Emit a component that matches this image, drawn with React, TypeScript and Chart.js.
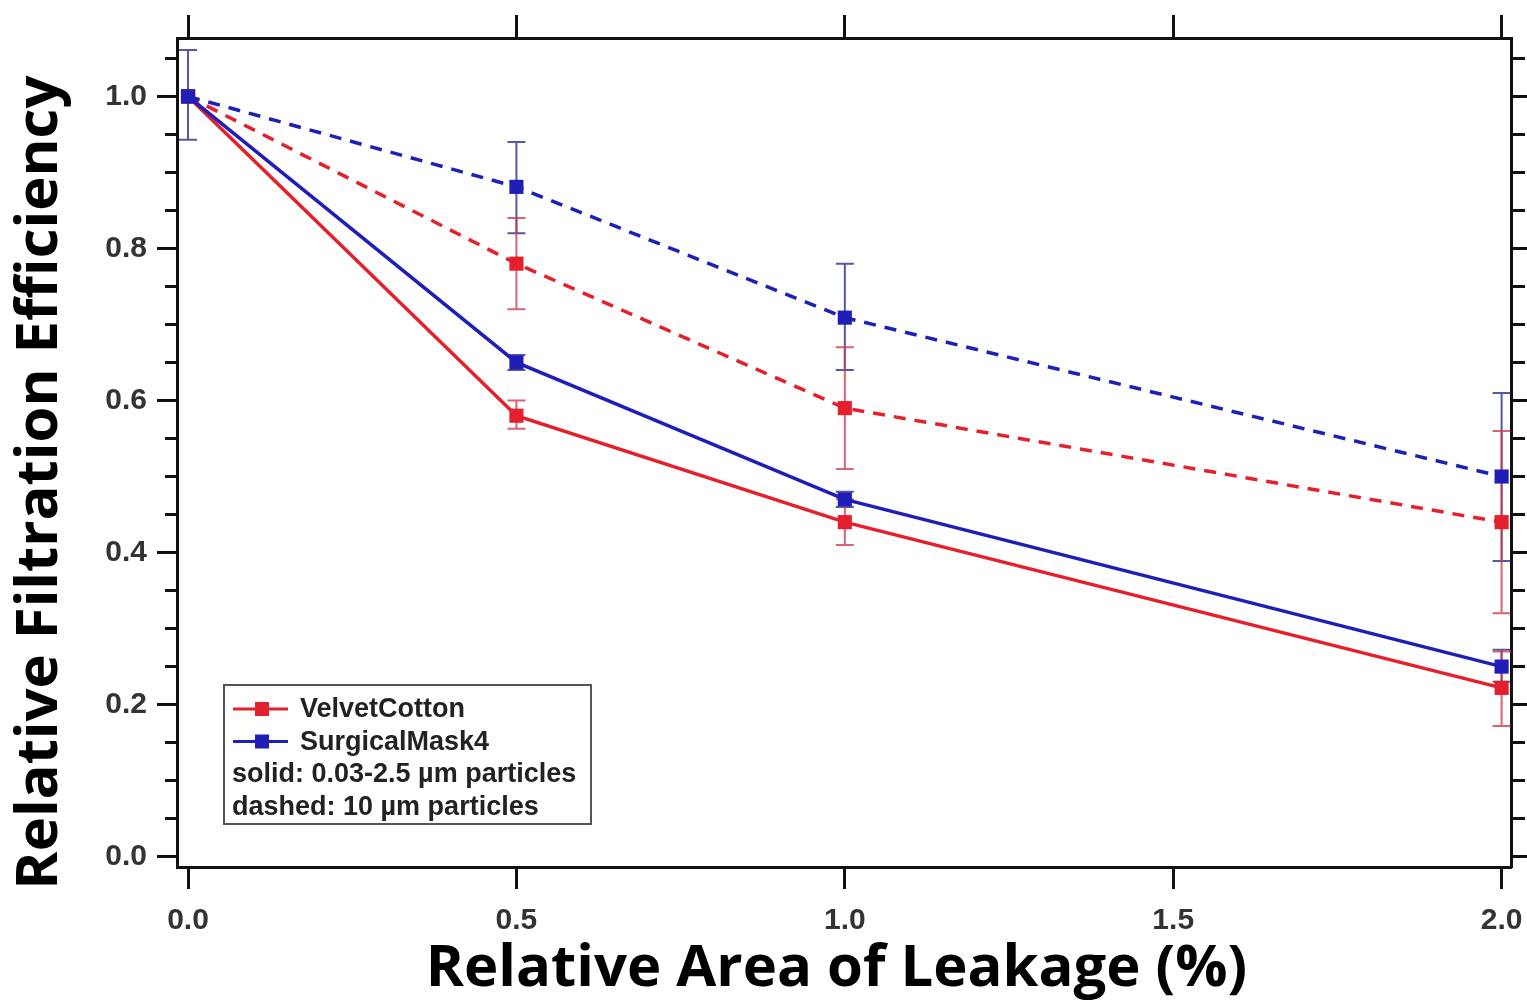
import React, { useEffect, useRef } from "react";
import { Chart, registerables } from "chart.js";

Chart.register(...registerables);

// ---- data ----
const xValues = [0, 0.5, 1.0, 2.0];

const velvetSolid = [1.0, 0.58, 0.44, 0.222];
const velvetSolidLow = [null, 0.563, 0.41, 0.172];
const velvetSolidHigh = [null, 0.6, 0.47, 0.27];

const surgicalSolid = [1.0, 0.65, 0.47, 0.25];
const surgicalSolidLow = [null, 0.64, 0.46, 0.23];
const surgicalSolidHigh = [null, 0.66, 0.48, 0.272];

const velvetDashed = [1.0, 0.78, 0.59, 0.44];
const velvetDashedLow = [null, 0.72, 0.51, 0.32];
const velvetDashedHigh = [null, 0.84, 0.67, 0.56];

const surgicalDashed = [1.0, 0.881, 0.709, 0.5];
const surgicalDashedLow = [0.943, 0.82, 0.64, 0.389];
const surgicalDashedHigh = [1.061, 0.94, 0.78, 0.61];

const xTickValues = [0, 0.5, 1.0, 1.5, 2.0];
const yTickValues = [
  0, 0.05, 0.1, 0.15, 0.2, 0.25, 0.3, 0.35, 0.4, 0.45, 0.5, 0.55, 0.6, 0.65,
  0.7, 0.75, 0.8, 0.85, 0.9, 0.95, 1.0, 1.05,
];

const seriesLabels = ["VelvetCotton", "SurgicalMask4"];
const legendNotes = ["solid: 0.03-2.5 µm particles", "dashed: 10 µm particles"];

const xTitle = "Relative Area of Leakage (%)";
const yTitle = "Relative Filtration Efficiency";

const RED = "#e3202b";
const BLUE = "#1f1fb8";
const RED_ERR = "rgba(205,60,80,0.8)";
const BLUE_ERR = "rgba(45,45,140,0.8)";

const isMajorY = (v: number) => Math.abs(v * 5 - Math.round(v * 5)) < 1e-6;

const toPoints = (ys: number[]) => xValues.map((x, i) => ({ x, y: ys[i] }));

const errorBarPlugin = {
  id: "errorBars",
  beforeDatasetsDraw(chart: any) {
    const { ctx } = chart;
    const xs = chart.scales.x;
    const ys = chart.scales.y;
    chart.data.datasets.forEach((ds: any) => {
      if (!ds.errLow) return;
      ctx.save();
      ctx.strokeStyle = ds.errColor;
      ctx.lineWidth = 2;
      ds.data.forEach((p: any, i: number) => {
        const lo = ds.errLow[i];
        const hi = ds.errHigh[i];
        if (lo == null || hi == null) return;
        const px = xs.getPixelForValue(p.x);
        const pl = ys.getPixelForValue(lo);
        const ph = ys.getPixelForValue(hi);
        ctx.beginPath();
        ctx.moveTo(px, pl);
        ctx.lineTo(px, ph);
        ctx.moveTo(px - 9, pl);
        ctx.lineTo(px + 9, pl);
        ctx.moveTo(px - 9, ph);
        ctx.lineTo(px + 9, ph);
        ctx.stroke();
      });
      ctx.restore();
    });
  },
};

const legendBoxPlugin = {
  id: "legendBox",
  afterDatasetsDraw(chart: any) {
    const { ctx, chartArea } = chart;
    const w = 367;
    const h = 139;
    const left = chartArea.left + 47;
    const top = chartArea.bottom - 43 - h;
    ctx.save();
    ctx.fillStyle = "#ffffff";
    ctx.fillRect(left, top, w, h);
    ctx.strokeStyle = "#555555";
    ctx.lineWidth = 2;
    ctx.strokeRect(left, top, w, h);
    ctx.font = 'bold 27px "Liberation Sans", Arial, sans-serif';
    ctx.textBaseline = "middle";
    ctx.fillStyle = "#222222";
    const items = chart.data.datasets
      .filter((d: any) => d.legendRank != null)
      .sort((a: any, b: any) => a.legendRank - b.legendRank);
    let row = 0;
    items.forEach((d: any) => {
      const cy = top + 24 + row * 32.5;
      ctx.strokeStyle = d.borderColor;
      ctx.lineWidth = 3;
      ctx.beginPath();
      ctx.moveTo(left + 9, cy);
      ctx.lineTo(left + 64, cy);
      ctx.stroke();
      ctx.fillStyle = d.borderColor;
      ctx.fillRect(left + 38 - 7, cy - 7, 14, 14);
      ctx.fillStyle = "#222222";
      ctx.textAlign = "left";
      ctx.fillText(d.label, left + 76, cy + 1);
      row++;
    });
    legendNotes.forEach((t) => {
      const cy = top + 24 + row * 32.5;
      ctx.fillStyle = "#222222";
      ctx.fillText(t, left + 8, cy + 1);
      row++;
    });
    ctx.restore();
  },
};

export default function App() {
  const ref = useRef<HTMLCanvasElement | null>(null);

  useEffect(() => {
    if (!ref.current) return;
    const tickFont = { family: '"Liberation Sans", Arial, sans-serif', size: 30, weight: "bold" as const };
    const titleFont = { family: '"Open Sans", sans-serif', size: 58, weight: "bold" as const };
    const setXTicks = (scale: any) => {
      scale.ticks = xTickValues.map((v) => ({ value: v }));
    };
    const setYTicks = (scale: any) => {
      scale.ticks = yTickValues.map((v) => ({ value: v }));
    };
    const X_MIN = -0.0168;
    const X_MAX = 2.0143;
    const Y_MIN = -0.0136;
    const Y_MAX = 1.0768;

    const common = {
      pointStyle: "rect",
      pointRadius: 10,
      pointBorderWidth: 0,
      tension: 0,
    };

    const chart = new Chart(ref.current, {
      type: "line",
      data: {
        datasets: [
          {
            ...common,
            label: seriesLabels[1],
            data: toPoints(surgicalSolid),
            borderColor: BLUE,
            backgroundColor: BLUE,
            borderWidth: 3.5,
            errLow: surgicalSolidLow,
            errHigh: surgicalSolidHigh,
            errColor: BLUE_ERR,
            legendRank: 1,
          } as any,
          {
            ...common,
            label: seriesLabels[0],
            data: toPoints(velvetSolid),
            borderColor: RED,
            backgroundColor: RED,
            borderWidth: 3.5,
            errLow: velvetSolidLow,
            errHigh: velvetSolidHigh,
            errColor: RED_ERR,
            legendRank: 0,
          } as any,
          {
            ...common,
            label: seriesLabels[1] + " (10 µm)",
            data: toPoints(surgicalDashed),
            borderColor: BLUE,
            backgroundColor: BLUE,
            borderWidth: 3.5,
            borderDash: [12, 9],
            errLow: surgicalDashedLow,
            errHigh: surgicalDashedHigh,
            errColor: BLUE_ERR,
          } as any,
          {
            ...common,
            label: seriesLabels[0] + " (10 µm)",
            data: toPoints(velvetDashed),
            borderColor: RED,
            backgroundColor: RED,
            borderWidth: 3.5,
            borderDash: [12, 9],
            errLow: velvetDashedLow,
            errHigh: velvetDashedHigh,
            errColor: RED_ERR,
          } as any,
        ],
      },
      options: {
        animation: false,
        responsive: true,
        maintainAspectRatio: false,
        layout: { padding: 0 },
        plugins: {
          legend: { display: false },
          tooltip: { enabled: false },
        },
        scales: {
          x: {
            type: "linear",
            position: "bottom",
            min: X_MIN,
            max: X_MAX,
            afterBuildTicks: setXTicks,
            afterFit: (s: any) => {
              s.height = 137;
              s.paddingLeft = 0;
              s.paddingRight = 0;
            },
            border: { display: true, color: "#111", width: 3 },
            grid: { drawOnChartArea: false, drawTicks: true, tickLength: 22, tickWidth: 3, tickColor: "#111" },
            ticks: {
              autoSkip: false,
              maxRotation: 0,
              padding: 14,
              color: "#333",
              font: tickFont,
              callback: (v: any) => Number(v).toFixed(1),
            },
            title: {
              display: true,
              text: xTitle + " ",
              color: "#000",
              font: titleFont,
              padding: { top: 0, bottom: 0 },
            },
          },
          xTop: {
            type: "linear",
            position: "top",
            min: X_MIN,
            max: X_MAX,
            afterBuildTicks: setXTicks,
            afterFit: (s: any) => {
              s.height = 38;
              s.paddingLeft = 0;
              s.paddingRight = 0;
            },
            border: { display: true, color: "#111", width: 3 },
            grid: { drawOnChartArea: false, drawTicks: true, tickLength: 23, tickWidth: 3, tickColor: "#111" },
            ticks: { display: false },
          },
          y: {
            type: "linear",
            position: "left",
            min: Y_MIN,
            max: Y_MAX,
            afterBuildTicks: setYTicks,
            afterFit: (s: any) => {
              s.width = 177;
            },
            border: { display: true, color: "#111", width: 3 },
            grid: {
              drawOnChartArea: false,
              drawTicks: true,
              tickLength: 20,
              tickWidth: 3,
              tickColor: "#111",
              tickBorderDash: (c: any) => (c.tick && isMajorY(c.tick.value) ? [] : [0, 8, 100]),
            },
            ticks: {
              autoSkip: false,
              padding: 10,
              color: "#333",
              font: tickFont,
              callback: (v: any) => (isMajorY(Number(v)) ? Number(v).toFixed(1) : ""),
            },
            title: {
              display: true,
              text: yTitle + "    ",
              color: "#000",
              font: titleFont,
              padding: { top: 6, bottom: 0 },
            },
          },
          yRight: {
            type: "linear",
            position: "right",
            min: Y_MIN,
            max: Y_MAX,
            afterBuildTicks: setYTicks,
            afterFit: (s: any) => {
              s.width = 16;
            },
            border: { display: true, color: "#111", width: 3 },
            grid: {
              drawOnChartArea: false,
              drawTicks: true,
              tickLength: 16,
              tickWidth: 3,
              tickColor: "#111",
              tickBorderDash: (c: any) => (c.tick && isMajorY(c.tick.value) ? [] : [12, 100]),
            },
            ticks: { display: false },
          },
        },
      } as any,
      plugins: [errorBarPlugin, legendBoxPlugin],
    });
    return () => chart.destroy();
  }, []);

  return (
    <div style={{ position: "absolute", left: 0, top: 0, width: 1527, height: 1004, background: "#fff" }}>
      <canvas ref={ref} />
    </div>
  );
}
